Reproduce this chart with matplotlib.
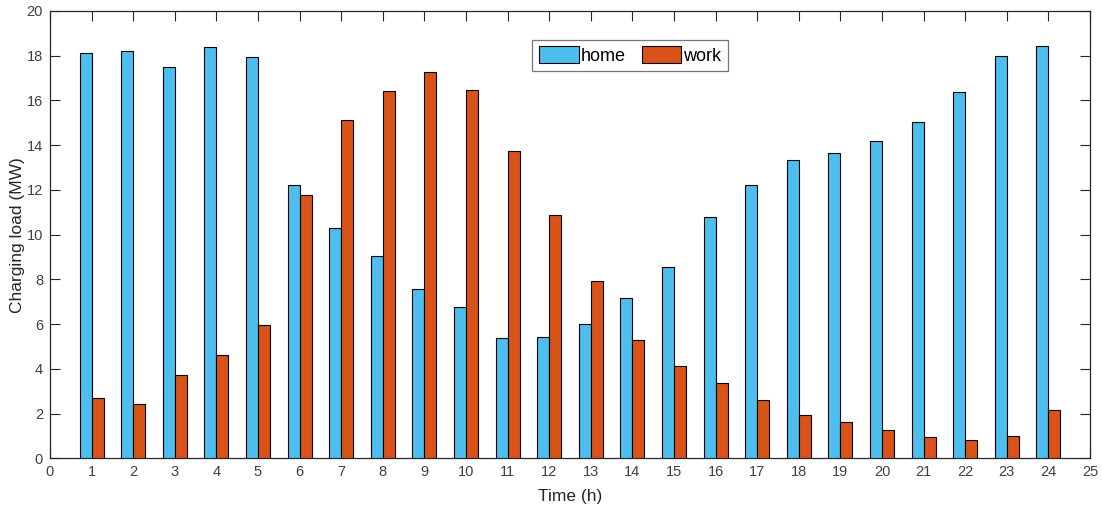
import matplotlib
matplotlib.use("Agg")
import matplotlib.pyplot as plt
import numpy as np

hours = list(range(1, 25))
home = [18.10, 18.19, 17.48, 18.37, 17.93, 12.20, 10.31, 9.04, 7.57, 6.78, 5.38, 5.44,
        5.99, 7.15, 8.57, 10.77, 12.20, 13.33, 13.65, 14.18, 15.03, 16.37, 18.00, 18.44]
work = [2.70, 2.44, 3.74, 4.63, 5.95, 11.77, 15.14, 16.41, 17.26, 16.45, 13.75, 10.89,
        7.94, 5.27, 4.13, 3.35, 2.62, 1.94, 1.64, 1.25, 0.94, 0.83, 1.01, 2.15]
series_labels = ["home", "work"]
xticks = list(range(0, 26))
yticks = list(range(0, 21, 2))

plt.rcParams['font.family'] = ['Liberation Sans', 'DejaVu Sans']

fig = plt.figure(figsize=(11.02, 5.12), dpi=100)
ax = fig.add_axes([50/1102, 1 - 458.3/512, 1040/1102, (458.3 - 11)/512])

x = np.array(hours)
w = 0.29
ax.bar(x - w/2, home, width=w, color="#4DBEEE", edgecolor="black", linewidth=0.8,
       label=series_labels[0], zorder=3)
ax.bar(x + w/2, work, width=w, color="#D95319", edgecolor="black", linewidth=0.8,
       label=series_labels[1], zorder=3)

ax.set_xlim(0, 25)
ax.set_ylim(0, 20)
ax.set_xticks(xticks)
ax.set_yticks(yticks)
ax.tick_params(direction="in", length=7.5, width=0.8, top=True, right=True,
               labelsize=10.5, colors="#262626", labelcolor="#404040", pad=5)
for s in ax.spines.values():
    s.set_linewidth(0.9)
    s.set_color("#262626")

ax.set_xlabel("Time (h)", fontsize=12.5, color="#262626", labelpad=7)
ax.set_ylabel("Charging load (MW)", fontsize=12.5, color="#262626", labelpad=1)

leg = ax.legend(loc="upper center", bbox_to_anchor=(0.5577, 0.935), ncol=2, fontsize=13,
                frameon=True, fancybox=False, edgecolor="#555555", handlelength=2.2,
                handleheight=1.05, handletextpad=0.1, columnspacing=0.9,
                borderpad=0.35, borderaxespad=0)
leg.get_frame().set_linewidth(0.9)

fig.savefig("out.png", dpi=100)
